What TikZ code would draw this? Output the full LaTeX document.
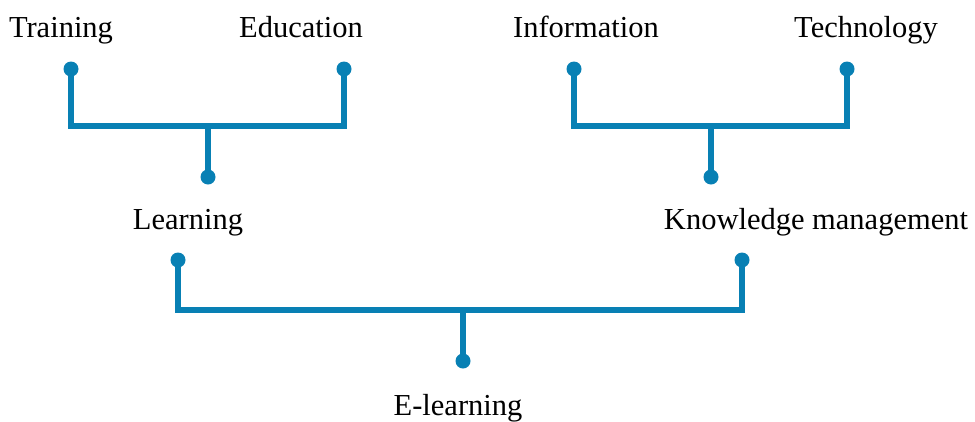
\documentclass[tikz,border=0pt]{standalone}
\usepackage{fontspec}
\setmainfont{Liberation Serif}
\definecolor{linkblue}{RGB}{8,128,180}
\begin{document}
\begin{tikzpicture}[x=1pt,y=-1pt,
  lbl/.style={font=\fontsize{30.5}{36}\selectfont, inner sep=0pt, anchor=base},
  dot/.style={circle, fill=linkblue, inner sep=0pt, minimum size=15pt},
  link/.style={draw=linkblue, line width=6.5pt, line join=miter}]
\useasboundingbox (0,0) rectangle (975,421);
% labels
\node[lbl] (training) at (61,37) {Training};
\node[lbl] (education) at (301,37) {Education};
\node[lbl] (information) at (586,37) {Information};
\node[lbl] (technology) at (866,37) {Technology};
\node[lbl] (learning) at (188,229) {Learning};
\node[lbl] (km) at (816,229) {Knowledge management};
\node[lbl] (elearning) at (458,415) {E-learning};
% dots
\node[dot] (dtr) at (71,69) {};
\node[dot] (ded) at (344,69) {};
\node[dot] (dle) at (208,177) {};
\node[dot] (din) at (574,69) {};
\node[dot] (dte) at (847,69) {};
\node[dot] (dkm) at (711,177) {};
\node[dot] (dle2) at (178,260) {};
\node[dot] (dkm2) at (742,260) {};
\node[dot] (del) at (463,361) {};
% junctions
\coordinate (j1) at (208,126);
\coordinate (j2) at (711,126);
\coordinate (j3) at (463,310);
% connectors
\draw[link] (dtr.center) |- (j1) -| (ded.center);
\draw[link] (j1) -- (dle.center);
\draw[link] (din.center) |- (j2) -| (dte.center);
\draw[link] (j2) -- (dkm.center);
\draw[link] (dle2.center) |- (j3) -| (dkm2.center);
\draw[link] (j3) -- (del.center);
\end{tikzpicture}
\end{document}
